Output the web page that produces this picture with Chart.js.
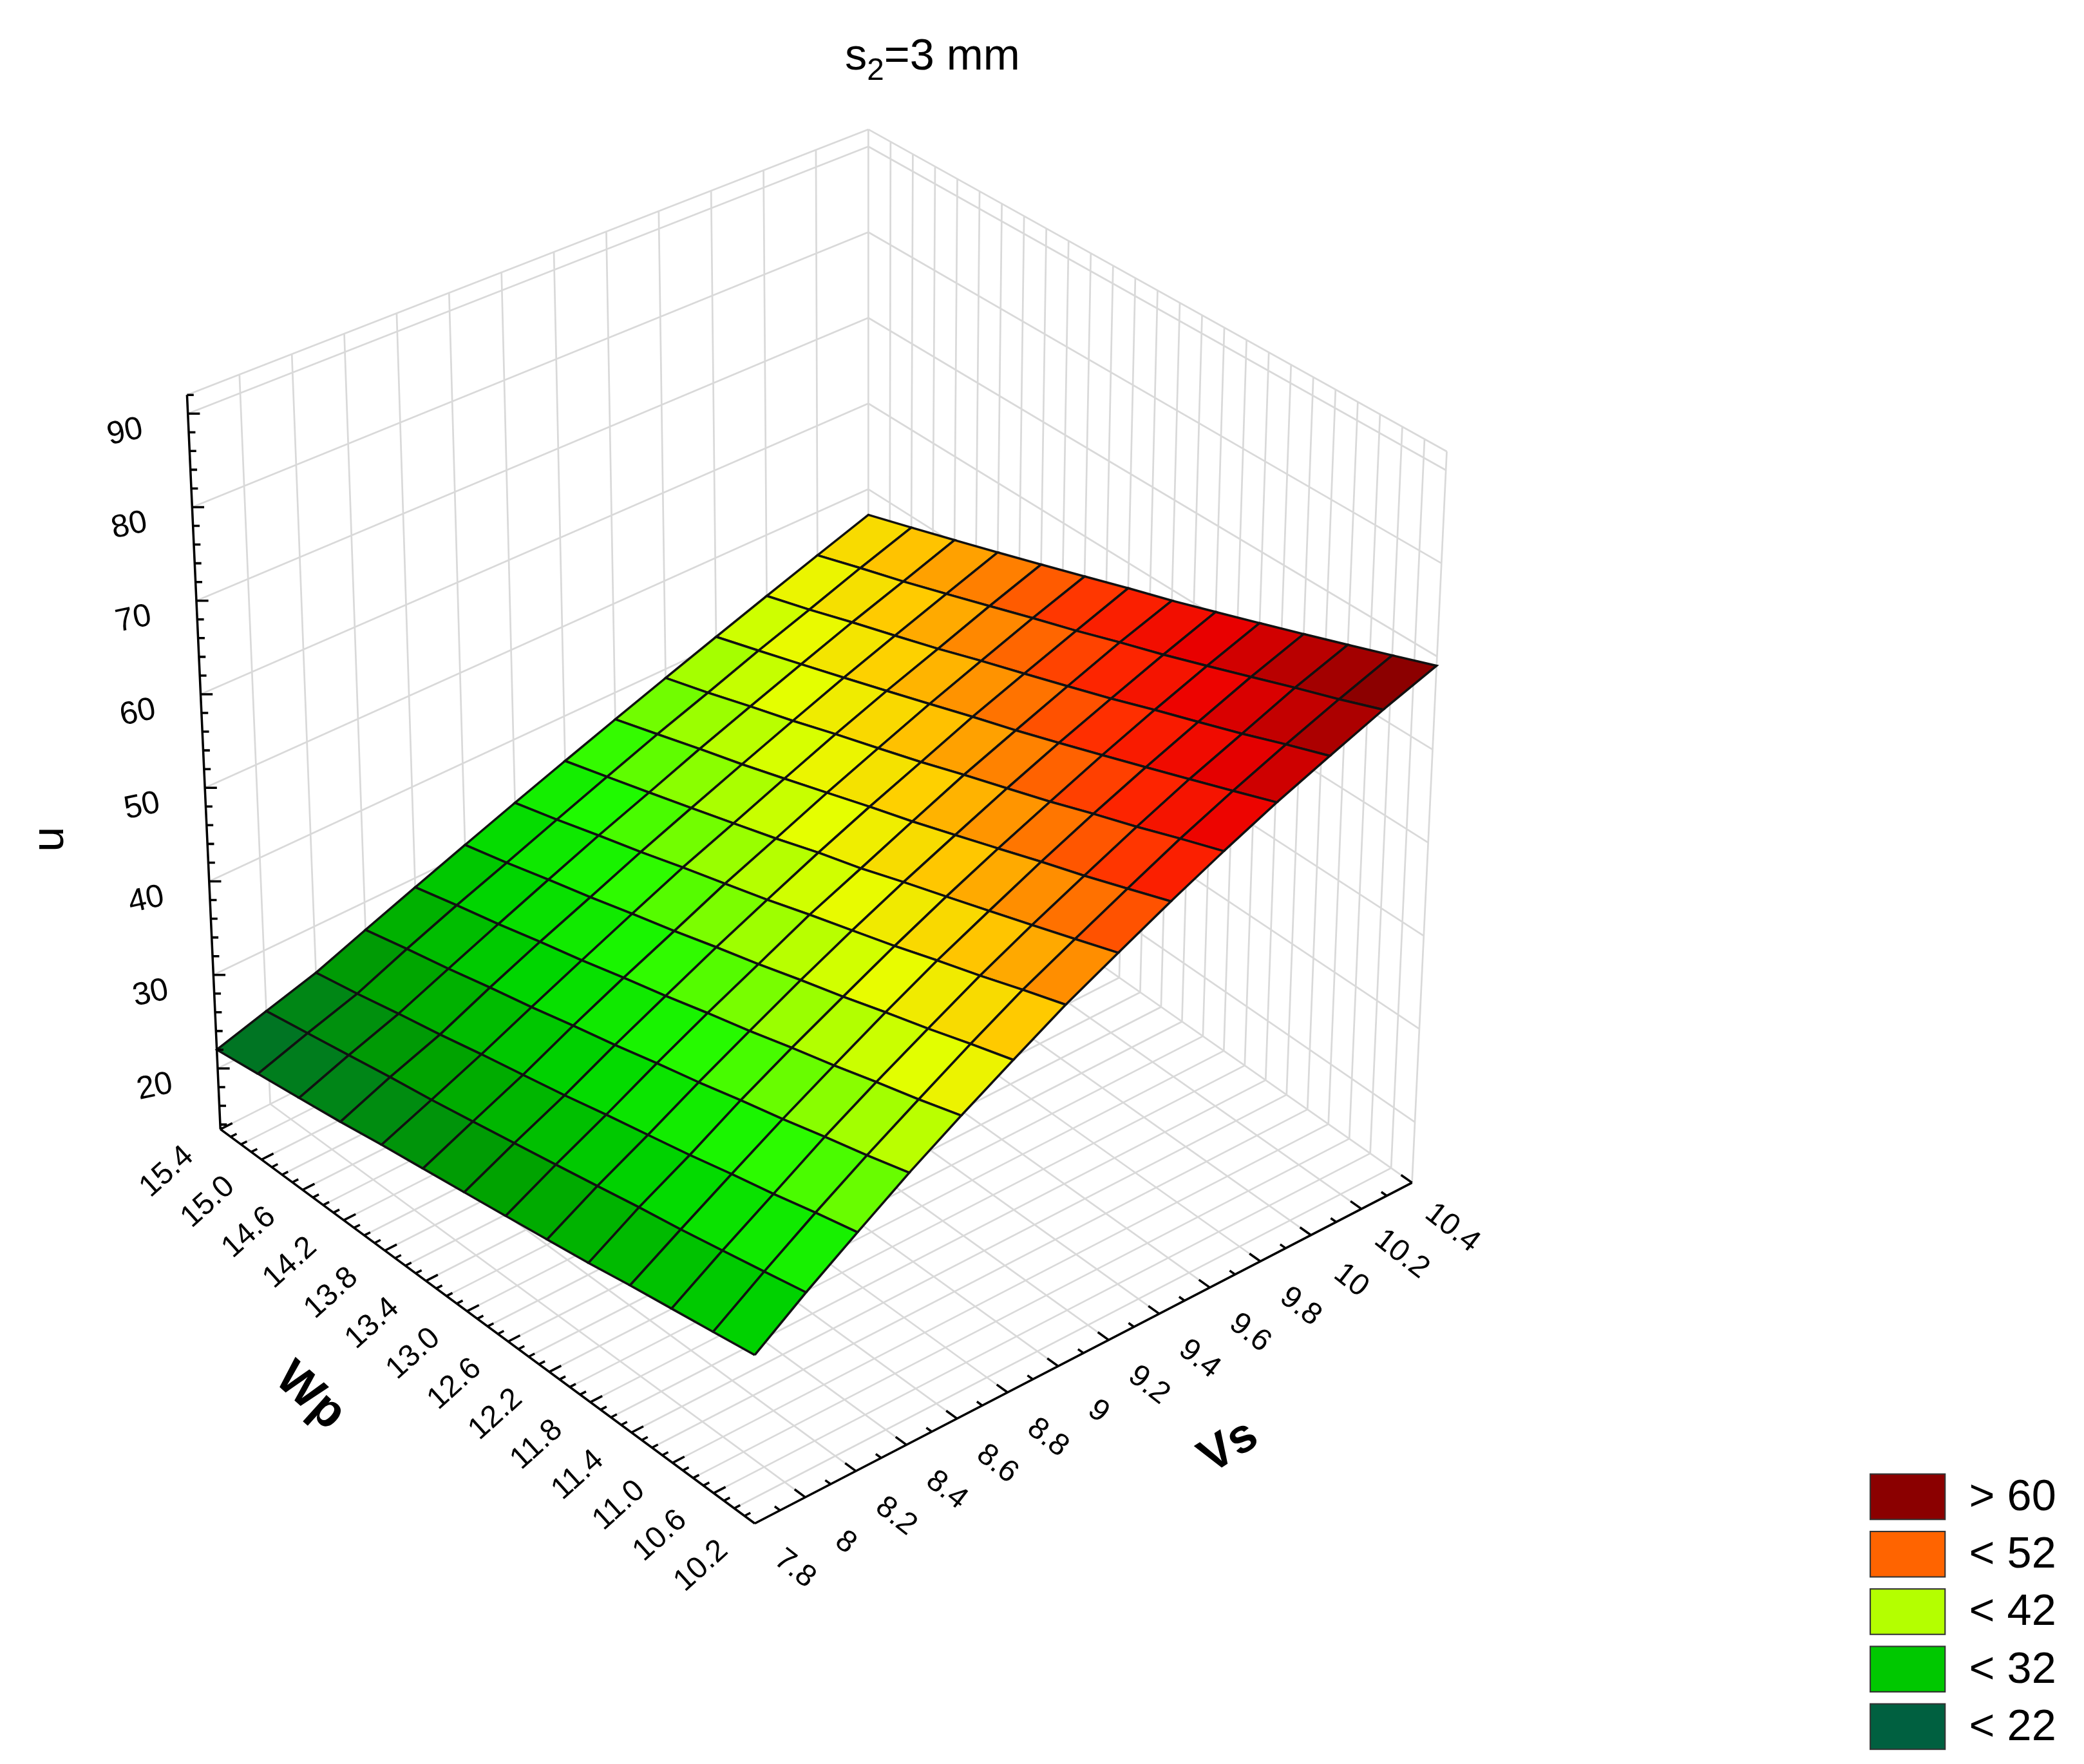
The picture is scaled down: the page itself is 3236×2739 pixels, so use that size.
<!DOCTYPE html>
<html>
<head>
<meta charset="utf-8">
<script src="https://cdn.jsdelivr.net/npm/chart.js@4/dist/chart.umd.min.js"></script>
<style>
html,body{margin:0;padding:0;background:#fff}
#wrap{width:3236px;height:2739px}
</style>
</head>
<body>
<div id="wrap"><canvas id="c"></canvas></div>
<script>
// grid of the fitted surface
var vsValues = [7.8, 8.0, 8.2, 8.4, 8.6, 8.8, 9.0, 9.2, 9.4, 9.6, 9.8, 10.0, 10.2, 10.4];
var wpValues = [10.2, 10.6, 11.0, 11.4, 11.8, 12.2, 12.6, 13.0, 13.4, 13.8, 14.2, 14.6, 15.0, 15.4];
// one row per Wp value, one column per Vs value
var uValues = [
  [30.0, 33.7, 37.2, 40.7, 44.0, 47.2, 50.4, 53.3, 56.2, 59.0, 61.7, 64.2, 66.7, 69.0],
  [29.4, 32.9, 36.3, 39.6, 42.8, 46.0, 49.1, 51.9, 54.7, 57.5, 60.1, 62.6, 65.0, 67.3],
  [28.8, 32.1, 35.3, 38.6, 41.7, 44.7, 47.7, 50.5, 53.2, 55.9, 58.5, 60.9, 63.4, 65.6],
  [28.2, 31.3, 34.4, 37.5, 40.5, 43.5, 46.4, 49.1, 51.8, 54.4, 56.9, 59.3, 61.7, 63.9],
  [27.5, 30.6, 33.4, 36.5, 39.4, 42.2, 45.0, 47.7, 50.3, 52.8, 55.3, 57.7, 60.0, 62.2],
  [26.9, 29.8, 32.5, 35.4, 38.2, 41.0, 43.7, 46.3, 48.8, 51.3, 53.7, 56.0, 58.3, 60.5],
  [26.3, 29.0, 31.6, 34.4, 37.1, 39.7, 42.4, 44.8, 47.3, 49.8, 52.1, 54.4, 56.7, 58.8],
  [25.7, 28.2, 30.6, 33.3, 35.9, 38.5, 41.0, 43.5, 45.9, 48.2, 50.6, 52.8, 55.0, 57.2],
  [25.1, 27.4, 29.7, 32.3, 34.8, 37.2, 39.7, 42.0, 44.4, 46.7, 49.0, 51.2, 53.4, 55.5],
  [24.5, 26.6, 28.8, 31.2, 33.6, 36.0, 38.4, 40.6, 42.9, 45.2, 47.4, 49.5, 51.7, 53.8],
  [23.8, 25.9, 27.8, 30.2, 32.5, 34.7, 37.0, 39.2, 41.4, 43.6, 45.8, 47.9, 50.0, 52.1],
  [23.2, 25.1, 26.9, 29.1, 31.3, 33.5, 35.7, 37.8, 40.0, 42.1, 44.2, 46.3, 48.3, 50.4],
  [22.6, 24.3, 25.9, 28.1, 30.2, 32.2, 34.3, 36.4, 38.5, 40.5, 42.6, 44.6, 46.7, 48.7],
  [22.0, 23.5, 25.0, 27.0, 29.0, 31.0, 33.0, 35.0, 37.0, 39.0, 41.0, 43.0, 45.0, 47.0]
];
var zTicks = [20, 30, 40, 50, 60, 70, 80, 90];
var vsTickLabels = ['7.8', '8', '8.2', '8.4', '8.6', '8.8', '9', '9.2', '9.4', '9.6', '9.8', '10', '10.2', '10.4'];
var wpTickLabels = ['15.4', '15.0', '14.6', '14.2', '13.8', '13.4', '13.0', '12.6', '12.2', '11.8', '11.4', '11.0', '10.6', '10.2'];
var legendLabels = ['> 60', '< 52', '< 42', '< 32', '< 22'];
var legendColors = ['#8b0000', '#ff6400', '#b4ff00', '#00c800', '#006040'];

var S = 3236 / 1560;   // picture units -> canvas px
var VS0 = 7.8, VS1 = 10.4, WP0 = 10.2, WP1 = 15.4, ZMIN = 13.5, ZMAX = 92;

// box corners on the floor (picture units), vertical scale and lean per corner
var cA = {x: 165, y: 845, s: 7.0, lean: -25}, cB = {x: 565, y: 1140, s: 7.64, lean: 0},
    cC = {x: 1057, y: 885, s: 6.97, lean: 26}, cD = {x: 650, y: 600, s: 6.41, lean: 0};

function proj(vs, wp, z) {
  var u = (vs - VS0) / (VS1 - VS0), w = (WP1 - wp) / (WP1 - WP0);
  var a = (1 - u) * (1 - w), b = (1 - u) * w, c = u * w, d = u * (1 - w);
  function mix(k) { return cA[k] * a + cB[k] * b + cC[k] * c + cD[k] * d; }
  var t = (z - ZMIN) / (ZMAX - ZMIN);
  return {x: mix('x') + mix('lean') * t, y: mix('y') - mix('s') * (z - ZMIN)};
}

var stops = [[18, [0, 80, 60]], [22, [0, 105, 45]], [27, [0, 160, 0]], [32, [0, 215, 0]],
  [36, [30, 250, 0]], [40, [150, 255, 0]], [44, [230, 255, 0]], [48, [255, 205, 0]],
  [52, [255, 125, 0]], [56, [255, 40, 0]], [60, [235, 0, 0]], [67, [140, 0, 0]]];
function colorFor(v) {
  if (v <= stops[0][0]) return 'rgb(' + stops[0][1] + ')';
  for (var i = 1; i < stops.length; i++) {
    if (v <= stops[i][0]) {
      var f = (v - stops[i - 1][0]) / (stops[i][0] - stops[i - 1][0]);
      var c = stops[i - 1][1].map(function (q, j) { return Math.round(q + (stops[i][1][j] - q) * f); });
      return 'rgb(' + c + ')';
    }
  }
  return 'rgb(' + stops[stops.length - 1][1] + ')';
}

var datasets = [];
function lineSet(points, color, width, order) {
  datasets.push({data: points, showLine: true, fill: false, borderColor: color,
    borderWidth: width * S, pointRadius: 0, spanGaps: false, order: order});
}
function seg(arr, p, q) { arr.push(p, q, {x: null, y: null}); }

// walls and floor grid
var grid = [], i;
var vsFine = [], wpFine = [];
for (i = 0; i <= 13; i++) vsFine.push(VS0 + i * 0.2);
for (i = 0; i <= 26; i++) wpFine.push(WP0 + i * 0.2);
vsFine.forEach(function (v) {
  seg(grid, proj(v, WP1, ZMIN), proj(v, WP1, ZMAX));
  seg(grid, proj(v, WP0, ZMIN), proj(v, WP1, ZMIN));
});
wpFine.forEach(function (w) {
  seg(grid, proj(VS1, w, ZMIN), proj(VS1, w, ZMAX));
  seg(grid, proj(VS0, w, ZMIN), proj(VS1, w, ZMIN));
});
zTicks.concat([ZMAX]).forEach(function (z) {
  seg(grid, proj(VS0, WP1, z), proj(VS1, WP1, z));
  seg(grid, proj(VS1, WP1, z), proj(VS1, WP0, z));
});
lineSet(grid, '#d9d9d9', 1.3, 1000);

// surface cells, back to front
for (var r = 0; r < wpValues.length - 1; r++) {
  for (var k = 0; k < vsValues.length - 1; k++) {
    var v00 = uValues[r][k], v01 = uValues[r][k + 1], v10 = uValues[r + 1][k], v11 = uValues[r + 1][k + 1];
    var poly = [proj(vsValues[k], wpValues[r], v00), proj(vsValues[k + 1], wpValues[r], v01),
      proj(vsValues[k + 1], wpValues[r + 1], v11), proj(vsValues[k], wpValues[r + 1], v10)];
    poly.push(poly[0]);
    var u = (k + 0.5) / 13, w = 1 - (r + 0.5) / 13;
    datasets.push({data: poly, showLine: true, fill: 'shape',
      backgroundColor: colorFor((v00 + v01 + v10 + v11) / 4), borderColor: '#111',
      borderWidth: 1.7 * S, pointRadius: 0, order: 100 + Math.round((u + 1 - w) * 100)});
  }
}

// axes and their ticks
function unit(p, q) { var dx = q.x - p.x, dy = q.y - p.y, l = Math.hypot(dx, dy); return {x: dx / l, y: dy / l}; }
var ax = [];
seg(ax, proj(VS0, WP1, ZMIN), proj(VS0, WP1, ZMAX));
seg(ax, proj(VS0, WP1, ZMIN), proj(VS0, WP0, ZMIN));
seg(ax, proj(VS0, WP0, ZMIN), proj(VS1, WP0, ZMIN));
for (var z = 14; z <= 92; z += 2) {
  var p = proj(VS0, WP1, z), len = (z % 10 === 0) ? 9 : 5;
  seg(ax, p, {x: p.x + len, y: p.y});
}
for (i = 0; i <= 52; i++) {
  var wv = WP0 + i * 0.1, pw = proj(VS0, wv, ZMIN), dw = unit(pw, proj(VS0 + 0.1, wv, ZMIN));
  var lw = (i % 4 === 0) ? 10 : 5;
  seg(ax, pw, {x: pw.x + dw.x * lw, y: pw.y + dw.y * lw});
}
for (i = 0; i <= 26; i++) {
  var vv = VS0 + i * 0.1, pv = proj(vv, WP0, ZMIN), dv = unit(pv, proj(vv, WP0 + 0.2, ZMIN));
  var lv = (i % 2 === 0) ? 10 : 5;
  seg(ax, pv, {x: pv.x + dv.x * lv, y: pv.y + dv.y * lv});
}
lineSet(ax, '#000', 1.7, 0);

var textPlugin = {
  id: 'texts',
  afterDraw: function (chart) {
    var ctx = chart.ctx, sx = chart.scales.x, sy = chart.scales.y;
    function X(v) { return sx.getPixelForValue(v); }
    function Y(v) { return sy.getPixelForValue(v); }
    function txt(str, x, y, size, rot, weight, align) {
      ctx.save();
      ctx.translate(X(x), Y(y));
      ctx.rotate(rot * Math.PI / 180);
      ctx.font = (weight || 'normal') + ' ' + (size * S) + 'px "Liberation Sans", Arial, sans-serif';
      ctx.fillStyle = '#000';
      ctx.textAlign = align || 'center';
      ctx.textBaseline = 'middle';
      ctx.fillText(str, 0, 0);
      ctx.restore();
    }
    // title with subscript
    ctx.save();
    ctx.fillStyle = '#000';
    ctx.textBaseline = 'alphabetic';
    var big = 33 * S + 'px "Liberation Sans", Arial, sans-serif', small = 23 * S + 'px "Liberation Sans", Arial, sans-serif';
    ctx.font = big; var w1 = ctx.measureText('s').width, w3 = ctx.measureText('=3 mm').width;
    ctx.font = small; var w2 = ctx.measureText('2').width;
    var x0 = X(698) - (w1 + w2 + w3) / 2, yb = Y(52);
    ctx.font = big; ctx.fillText('s', x0, yb);
    ctx.font = small; ctx.fillText('2', x0 + w1, yb + 8 * S);
    ctx.font = big; ctx.fillText('=3 mm', x0 + w1 + w2, yb);
    ctx.restore();

    zTicks.forEach(function (z) {
      var p = proj(VS0, WP1, z);
      txt(String(z), p.x - 47, p.y + 14, 24, -12);
    });
    wpTickLabels.forEach(function (l, j) {
      var p = proj(VS0, WP1 - j * 0.4, ZMIN);
      txt(l, p.x - 40, p.y + 32, 23, -42);
    });
    vsTickLabels.forEach(function (l, j) {
      var p = proj(vsValues[j], WP0, ZMIN);
      txt(l, p.x + 30, p.y + 34, 23, 38);
    });
    txt('Wp', 232, 1045, 36, 42, 'bold');
    txt('Vs', 920, 1083, 36, -32, 'bold');
    txt('u', 38, 628, 34, -90, 'normal');

    legendLabels.forEach(function (l, j) {
      var top = 1103 + j * 43;
      ctx.save();
      ctx.fillStyle = legendColors[j];
      ctx.strokeStyle = '#333';
      ctx.lineWidth = S;
      ctx.fillRect(X(1400), Y(top), X(1456) - X(1400), Y(top + 34) - Y(top));
      ctx.strokeRect(X(1400), Y(top), X(1456) - X(1400), Y(top + 34) - Y(top));
      ctx.restore();
      txt(l, 1474, top + 18, 33, 0, 'normal', 'left');
    });
  }
};

new Chart(document.getElementById('c'), {
  type: 'scatter',
  data: {datasets: datasets},
  options: {
    responsive: true,
    maintainAspectRatio: false,
    animation: false,
    layout: {padding: 0},
    elements: {point: {radius: 0}, line: {tension: 0}},
    scales: {
      x: {type: 'linear', display: false, min: 0, max: 1560},
      y: {type: 'linear', display: false, min: 0, max: 1320, reverse: true}
    },
    plugins: {legend: {display: false}, tooltip: {enabled: false}}
  },
  plugins: [textPlugin]
});
</script>
</body>
</html>
